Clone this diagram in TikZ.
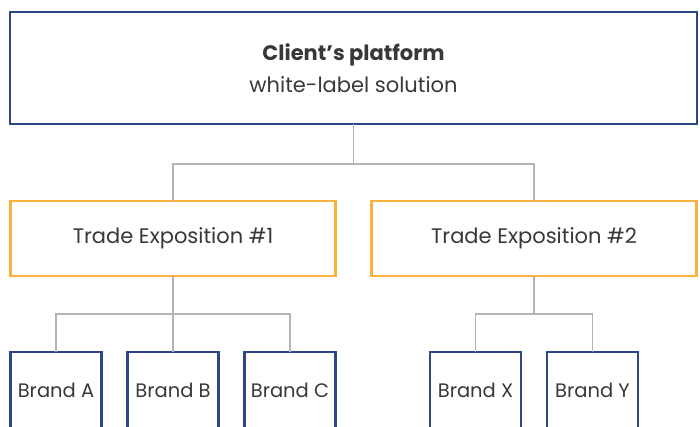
\documentclass[tikz,border=0pt]{standalone}
\usepackage{fontspec}
\setmainfont{Poppins}
\usepackage{tikz}
\usetikzlibrary{positioning}
\definecolor{navy}{HTML}{2E4689}
\definecolor{amber}{HTML}{F9B23C}
\definecolor{wire}{HTML}{B4B4B4}
\definecolor{ink}{HTML}{383838}

\begin{document}
\begin{tikzpicture}[x=1pt,y=-1pt,
    text=ink,
    every node/.style={outer sep=0pt},
    platform/.style={draw=navy,line width=2.7pt,minimum width=687pt,minimum height=112pt,align=center,
        font=\fontsize{21}{24}\selectfont},
    expo/.style={draw=amber,line width=2.7pt,minimum width=325pt,minimum height=75pt,
        font=\fontsize{21}{24}\selectfont},
    brand/.style={draw=navy,line width=2.7pt,minimum width=91pt,minimum height=76pt,
        font=\fontsize{19.5}{23}\selectfont},
    link/.style={draw=wire,line width=1.4pt}]
    \useasboundingbox (0,0) rectangle (700,427);
    % the platform
        \node[platform] (top) at (353.5,68)
            {{\bfseries Client’s platform}\\[8pt]white-label solution};
    % the two expositions
		\node[expo,
			below left=77pt and 18pt of top.south
        	] (t1) {Trade Exposition \#1};
		\node[expo,
			below right=77pt and 18pt of top.south
        	] (t2) {Trade Exposition \#2};
    % brands of exposition 1
		\node[brand,
			below=76pt of t1
        	] (bB) {Brand B};
		\node[brand,
			left=26pt of bB
        	] (bA) {Brand A};
		\node[brand,
			right=26pt of bB
        	] (bC) {Brand C};
    % brands of exposition 2
		\node[brand,
			below left=76pt and 13pt of t2.south
        	] (bX) {Brand X};
		\node[brand,
			below right=76pt and 13pt of t2.south
        	] (bY) {Brand Y};
    % junctions
		\coordinate[below=40pt of top.south] (hub0);
		\coordinate[below=38pt of t1.south] (hub1);
		\coordinate[below=38pt of t2.south] (hub2);

       \path[link]
			(top.south) edge (hub0)
			(t1.north) edge[to path={|- (\tikztotarget)}] (hub0)
			(t2.north) edge[to path={|- (\tikztotarget)}] (hub0)
			(t1.south) edge (bB.north)
			(bA.north) edge[to path={|- (\tikztotarget)}] (hub1)
			(bC.north) edge[to path={|- (\tikztotarget)}] (hub1)
			(t2.south) edge (hub2)
			(bX.north) edge[to path={|- (\tikztotarget)}] (hub2)
			(bY.north) edge[to path={|- (\tikztotarget)}] (hub2)
            ;
    \end{tikzpicture}
\end{document}
